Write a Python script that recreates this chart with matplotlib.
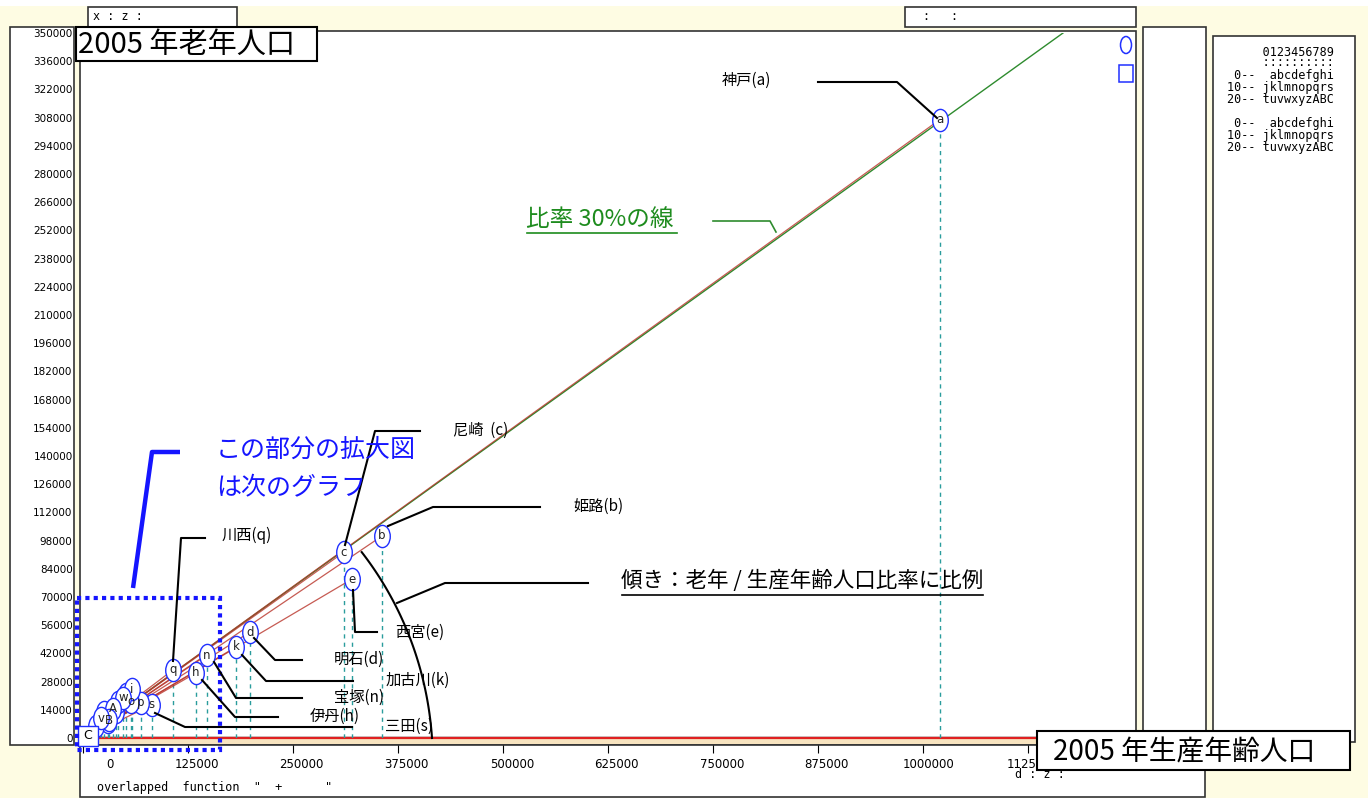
import matplotlib
matplotlib.use('Agg')
import matplotlib.pyplot as plt
from matplotlib.patches import Rectangle, Ellipse
from matplotlib.path import Path
from matplotlib.transforms import Affine2D, ScaledTranslation
from matplotlib import font_manager
import numpy as np

# ---------------- data ----------------
# visible cities: letter, 2005 working-age population, 2005 elderly population
city_letters = ['a', 'b', 'c', 'e', 'd', 'k', 'n', 'h', 'q', 's', 'p', 'o', 'i', 'w', 'A', 'B', 'v']
working_age = [1020000, 356000, 310700, 320200, 198800, 182100, 147600, 134500, 107100,
               82100, 69000, 57100, 58300, 47600, 35700, 31000, 21400]
elderly = [307000, 100300, 92300, 78900, 52600, 45200, 41200, 32300, 33800,
           16400, 17400, 17900, 24300, 19900, 14400, 8900, 9900]
# small towns hidden in the cluster near the origin (labels covered)
hidden_working = [25000, 39300, 51200, 41700, 29800, 15500]
hidden_elderly = [12900, 12900, 21800, 17900, 7900, 6000]
# town drawn with a square marker
square_letter = 'C'
square_working = 6000
square_elderly = 1000
# reference line ratio (30%)
ratio_line = 0.30
# axis ticks
y_ticks = list(range(0, 350001, 14000))
x_ticks = [0, 125000, 250000, 375000, 500000, 625000, 750000, 875000, 1000000, 1125000]
x_max = 1252381
y_max = 350000

# ---------------- fonts ----------------
avail = {f.name for f in font_manager.fontManager.ttflist}
narrow = 'Liberation Sans Narrow' if 'Liberation Sans Narrow' in avail else 'DejaVu Sans'
plt.rcParams['font.family'] = ['Noto Sans CJK JP', 'DejaVu Sans']

W, H, DPI = 1368, 798, 100
fig = plt.figure(figsize=(W / DPI, H / DPI), dpi=DPI)
CREAM = '#FEFCE3'
fig.patch.set_facecolor(CREAM)


def frac_rect(x0, y0, x1, y1):
    return [x0 / W, 1 - y1 / H, (x1 - x0) / W, (y1 - y0) / H]


# background axes for panels (pixel coordinates)
bg = fig.add_axes([0, 0, 1, 1], zorder=0)
bg.set_xlim(0, W)
bg.set_ylim(H, 0)
bg.axis('off')


def panel(ax, x0, y0, x1, y1, lw=1.2, ec='#333333', fc='white', z=1):
    ax.add_patch(Rectangle((x0, y0), x1 - x0, y1 - y0, fc=fc, ec=ec, lw=lw, zorder=z))


bg.add_patch(Rectangle((0, 0), W, 6, fc='white', ec='none'))
panel(bg, 88, 7, 237, 27)
panel(bg, 905, 7, 1136, 27)
panel(bg, 10, 27, 74, 745)
panel(bg, 80, 31, 1136, 745)
panel(bg, 1143, 27, 1206, 742)
panel(bg, 1213, 36, 1355, 742)
panel(bg, 80, 745, 1205, 797)
# baseline band at y = 0
bg.add_patch(Rectangle((83, 739), 1053, 5, fc='#F8E4C0', ec='none', zorder=2))
bg.plot([83, 1136], [737, 737], color='black', lw=1, zorder=3)

# ---------------- data axes ----------------
ax = fig.add_axes(frac_rect(83, 33, 1135, 738), zorder=1)
ax.patch.set_alpha(0)
ax.set_xlim(0, x_max)
ax.set_ylim(0, y_max)
for sp in ['top', 'right', 'left']:
    ax.spines[sp].set_visible(False)
ax.spines['bottom'].set_position(('outward', 5.0))
ax.spines['bottom'].set_visible(False)
ax.set_yticks(y_ticks)
ax.set_yticklabels([str(v) for v in y_ticks], fontsize=7.5, family=narrow)
ax.tick_params(axis='y', length=0, pad=7.5)
ax.set_xticks(x_ticks)
ax.set_xticklabels([str(v) for v in x_ticks], fontsize=8.5, family=narrow)
ax.tick_params(axis='x', direction='out', length=5.5, width=0.8, pad=4)
for lab in ax.get_xticklabels():
    lab.set_ha('right')
    lab.set_transform(lab.get_transform() + ScaledTranslation(31 / DPI, 0, fig.dpi_scale_trans))

# baseline red line
ax.axhline(0, color='#E02020', lw=1.6, zorder=2, clip_on=False)

# 30% line
ax.axline((0, 0), slope=ratio_line, color='#2E8B2E', lw=1.0, zorder=2)

all_x = hidden_working + working_age
all_y = hidden_elderly + elderly

# red lines from origin
for x, y in zip(all_x + [square_working], all_y + [square_elderly]):
    ax.plot([0, x], [0, y], color='#B83228', lw=0.9, alpha=0.8, zorder=3)

# teal dashed drop lines
ax.vlines(all_x, 0, all_y, colors='#2A9D9D', linestyles=(0, (3, 3)), lw=1.0, zorder=2)

# ellipse markers
ell = Path.unit_circle().transformed(Affine2D().scale(0.7, 1.0))
ax.plot(hidden_working, hidden_elderly, ls='none', marker=ell, ms=16, mfc='white',
        mec='#2030FF', mew=1.0, zorder=5, clip_on=False)
for x, y, l in zip(working_age, elderly, city_letters):
    ax.plot([x], [y], ls='none', marker=ell, ms=16, mfc='white', mec='#2030FF', mew=1.0,
            zorder=5, clip_on=False)
    ax.text(x, y, l, fontsize=8.5, ha='center', va='center', family='DejaVu Sans', zorder=6,
            color='#222222', clip_on=False)
ax.plot([square_working], [square_elderly], ls='none', marker='s', ms=15, mfc='white',
        mec='#2030FF', mew=1.0, zorder=5, clip_on=False)
ax.text(square_working, square_elderly, square_letter, fontsize=9, ha='center', va='center',
        family='DejaVu Sans', zorder=6, clip_on=False)

# ---------------- overlay (pixel coords) ----------------
ov = fig.add_axes([0, 0, 1, 1], zorder=2)
ov.patch.set_alpha(0)
ov.set_xlim(0, W)
ov.set_ylim(H, 0)
ov.axis('off')

mono = 'DejaVu Sans Mono'
ov.text(93, 17, 'x : z :', fontsize=8.5, family=mono, va='center')
ov.text(922, 17, ':', fontsize=8.5, family=mono, va='center')
ov.text(950, 17, ':', fontsize=8.5, family=mono, va='center')
ov.text(97, 788, 'overlapped  function  "  +      "', fontsize=8.5, family=mono, va='center')
ov.text(1015, 775, 'd : z :', fontsize=8.5, family=mono, va='center')

# character table in right panel
table = ['     0123456789', '     ::::::::::', ' 0--  abcdefghi', '10-- jklmnopqrs',
         '20-- tuvwxyzABC', '', ' 0--  abcdefghi', '10-- jklmnopqrs', '20-- tuvwxyzABC']
ys = [52, 63, 76, 88, 100, 112, 124, 136, 148]
for t, yy in zip(table, ys):
    if t:
        ov.text(1334, yy, t, fontsize=8.5, family=mono, ha='right', va='center')

# legend symbols top right
ov.add_patch(Ellipse((1126, 45), 11, 17, fc='white', ec='#2030FF', lw=1.1))
ov.add_patch(Rectangle((1119, 65), 14, 17, fc='white', ec='#2030FF', lw=1.1))

# title boxes
ov.add_patch(Rectangle((76, 27), 241, 34, fc='white', ec='black', lw=1.5))
ov.text(78, 45, '2005 年老年人口', fontsize=21, va='center', ha='left')
ov.add_patch(Rectangle((1037, 731), 313, 39, fc='white', ec='black', lw=1.5))
ov.text(1053, 752, '2005 年生産年齢人口', fontsize=20, va='center', ha='left')

# leader lines and labels
def leader(pts, **kw):
    xs, ys_ = zip(*pts)
    ov.plot(xs, ys_, color='black', lw=1.5, **kw)

LS = 11
leader([(818, 82), (897, 82), (937, 118)])
ov.text(722, 80, '神戸(a)', fontsize=LS, va='center')
leader([(420, 431), (375, 431), (345, 545)])
ov.text(453, 430, '尼崎  (c)', fontsize=LS, va='center')
leader([(540, 507), (433, 507), (388, 526)])
ov.text(573, 506, '姫路(b)', fontsize=LS, va='center')
leader([(205, 538), (181, 538), (173, 661)])
ov.text(222, 535, '川西(q)', fontsize=LS, va='center')
leader([(353, 590), (355, 632), (377, 632)])
ov.text(395, 632, '西宮(e)', fontsize=LS, va='center')
leader([(254, 638), (275, 660), (302, 660)])
ov.text(334, 659, '明石(d)', fontsize=LS, va='center')
leader([(242, 655), (266, 681), (353, 681)])
ov.text(386, 680, '加古川(k)', fontsize=LS, va='center')
leader([(214, 662), (236, 698), (302, 698)])
ov.text(334, 697, '宝塚(n)', fontsize=LS, va='center')
leader([(202, 680), (235, 717), (278, 717)])
ov.text(310, 716, '伊丹(h)', fontsize=LS, va='center')
leader([(155, 713), (185, 727), (352, 727)])
ov.text(385, 726, '三田(s)', fontsize=LS, va='center')

# slope annotation with arc
ang = np.linspace(np.deg2rad(33.7), 0, 60)
rad = 335 + (349 - 335) * (1 - ang / ang[0])
ov.plot(83 + rad * np.cos(ang), 738 - rad * np.sin(ang), color='black', lw=1.5)
leader([(588, 583), (445, 583), (397, 603)])
ov.text(621, 581, '傾き：老年 / 生産年齢人口比率に比例', fontsize=15.5, va='center')
ov.plot([622, 983], [595, 595], color='black', lw=1.2)

# 30% line annotation
ov.plot([713, 770, 776], [221, 221, 232], color='#2E8B2E', lw=1.2)
ov.text(526, 219, '比率 30%の線', fontsize=17, va='center', color='#1E8C1E')
ov.plot([527, 677], [233, 233], color='#1E8C1E', lw=1.2)

# zoom note
ov.text(216, 450, 'この部分の拡大図', fontsize=18, va='center', color='#1515FF')
ov.text(216, 488, 'は次のグラフ', fontsize=18, va='center', color='#1515FF')
ov.plot([180, 152, 133], [452, 452, 588], color='#1515FF', lw=3.2, solid_capstyle='butt')
ov.add_patch(Rectangle((77, 598), 143, 152, fc='none', ec='#1515FF', lw=3,
                       linestyle=(0, (1, 1))))

fig.savefig('out.png', dpi=DPI, facecolor=fig.get_facecolor())
